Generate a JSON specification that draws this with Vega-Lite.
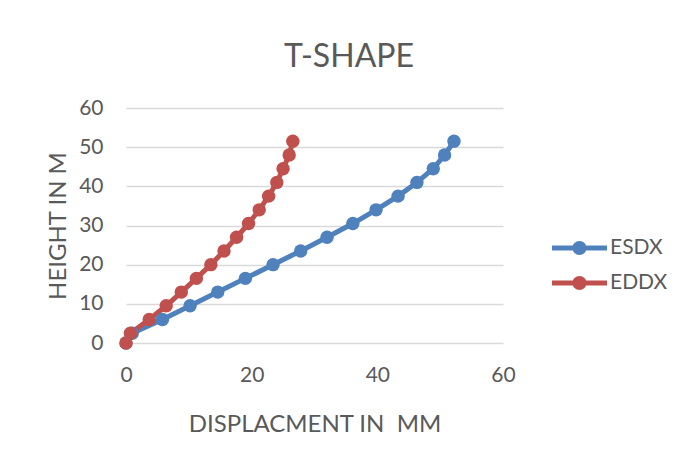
{
  "$schema": "https://vega.github.io/schema/vega-lite/v6.json",
  "width": 377,
  "height": 235,
  "autosize": {"type": "none"},
  "padding": {"left": 126, "top": 108, "right": 185, "bottom": 116},
  "background": "white",
  "title": {
    "text": "T-SHAPE",
    "anchor": "middle",
    "frame": "group",
    "dx": 34.5,
    "baseline": "alphabetic",
    "offset": 0,
    "dy": 2,
    "font": "Lato",
    "fontSize": 32,
    "fontWeight": "normal",
    "color": "#595959"
  },
  "config": {
    "view": {"stroke": null},
    "font": "Lato"
  },
  "data": {
    "values": [
      {"series": "ESDX", "i": 0, "d": 0, "h": 0},
      {"series": "ESDX", "i": 1, "d": 1.0, "h": 2.5},
      {"series": "ESDX", "i": 2, "d": 5.8, "h": 6},
      {"series": "ESDX", "i": 3, "d": 10.2, "h": 9.5},
      {"series": "ESDX", "i": 4, "d": 14.6, "h": 13},
      {"series": "ESDX", "i": 5, "d": 19.0, "h": 16.5},
      {"series": "ESDX", "i": 6, "d": 23.4, "h": 20},
      {"series": "ESDX", "i": 7, "d": 27.8, "h": 23.5},
      {"series": "ESDX", "i": 8, "d": 32.0, "h": 27},
      {"series": "ESDX", "i": 9, "d": 36.1, "h": 30.5},
      {"series": "ESDX", "i": 10, "d": 39.8, "h": 34},
      {"series": "ESDX", "i": 11, "d": 43.3, "h": 37.5},
      {"series": "ESDX", "i": 12, "d": 46.3, "h": 41},
      {"series": "ESDX", "i": 13, "d": 48.9, "h": 44.5},
      {"series": "ESDX", "i": 14, "d": 50.7, "h": 48},
      {"series": "ESDX", "i": 15, "d": 52.2, "h": 51.5},
      {"series": "EDDX", "i": 0, "d": 0, "h": 0},
      {"series": "EDDX", "i": 1, "d": 0.7, "h": 2.5},
      {"series": "EDDX", "i": 2, "d": 3.7, "h": 6},
      {"series": "EDDX", "i": 3, "d": 6.4, "h": 9.5},
      {"series": "EDDX", "i": 4, "d": 8.8, "h": 13},
      {"series": "EDDX", "i": 5, "d": 11.2, "h": 16.5},
      {"series": "EDDX", "i": 6, "d": 13.5, "h": 20},
      {"series": "EDDX", "i": 7, "d": 15.6, "h": 23.5},
      {"series": "EDDX", "i": 8, "d": 17.6, "h": 27},
      {"series": "EDDX", "i": 9, "d": 19.5, "h": 30.5},
      {"series": "EDDX", "i": 10, "d": 21.2, "h": 34},
      {"series": "EDDX", "i": 11, "d": 22.7, "h": 37.5},
      {"series": "EDDX", "i": 12, "d": 24.0, "h": 41},
      {"series": "EDDX", "i": 13, "d": 25.0, "h": 44.5},
      {"series": "EDDX", "i": 14, "d": 25.97, "h": 48},
      {"series": "EDDX", "i": 15, "d": 26.55, "h": 51.5}
    ]
  },
  "encoding": {
    "x": {
      "field": "d",
      "type": "quantitative",
      "scale": {"domain": [0, 60], "nice": false, "zero": false},
      "axis": {
        "title": "DISPLACMENT IN\u00a0 MM",
        "values": [0, 20, 40, 60],
        "grid": false,
        "domain": false,
        "ticks": false,
        "tickSize": 0,
        "labelFont": "Lato",
        "labelFontSize": 21,
        "labelColor": "#595959",
        "labelBaseline": "alphabetic",
        "labelPadding": 38,
        "labelFlush": false,
        "titleFont": "Lato",
        "titleFontSize": 24,
        "titleFontWeight": "normal",
        "titleColor": "#595959",
        "titleBaseline": "alphabetic",
        "titleAlign": "center",
        "titleX": 188.5,
        "titleY": 88.7
      }
    },
    "y": {
      "field": "h",
      "type": "quantitative",
      "scale": {"domain": [0, 60], "nice": false, "zero": false},
      "axis": {
        "title": "HEIGHT IN M",
        "values": [0, 10, 20, 30, 40, 50, 60],
        "grid": true,
        "gridColor": "#D9D9D9",
        "gridWidth": 1.4,
        "domain": false,
        "ticks": false,
        "tickSize": 0,
        "labelFont": "Lato",
        "labelFontSize": 21,
        "labelColor": "#595959",
        "labelPadding": 23,
        "labelFlush": false,
        "titleFont": "Lato",
        "titleFontSize": 24,
        "titleFontWeight": "normal",
        "titleColor": "#595959",
        "titleAngle": -90,
        "titleBaseline": "alphabetic",
        "titleAlign": "center",
        "titleX": -61,
        "titleY": 117.5
      }
    },
    "color": {
      "field": "series",
      "type": "nominal",
      "scale": {"domain": ["ESDX", "EDDX"], "range": ["#4F81BD", "#C0504D"]},
      "legend": {
        "title": null,
        "orient": "none",
        "legendX": 429,
        "legendY": 115.5,
        "padding": 0,
        "rowPadding": 0,
        "symbolType": "M-1.122,-0.098H1.122V0.098H-1.122Z M-0.286,0A0.286,0.286,0,1,1,0.286,0A0.286,0.286,0,1,1,-0.286,0Z",
        "symbolSize": 2401,
        "symbolStrokeWidth": 0,
        "symbolOpacity": 1,
        "labelOffset": 6,
        "labelFont": "Lato",
        "labelFontSize": 21,
        "labelColor": "#595959"
      }
    }
  },
  "layer": [
    {
      "mark": {"type": "line", "strokeWidth": 5, "strokeCap": "round", "strokeJoin": "round"},
      "encoding": {"order": {"field": "i", "type": "quantitative"}}
    },
    {
      "mark": {"type": "point", "filled": true, "opacity": 1, "size": 180, "shape": "circle"}
    }
  ]
}
